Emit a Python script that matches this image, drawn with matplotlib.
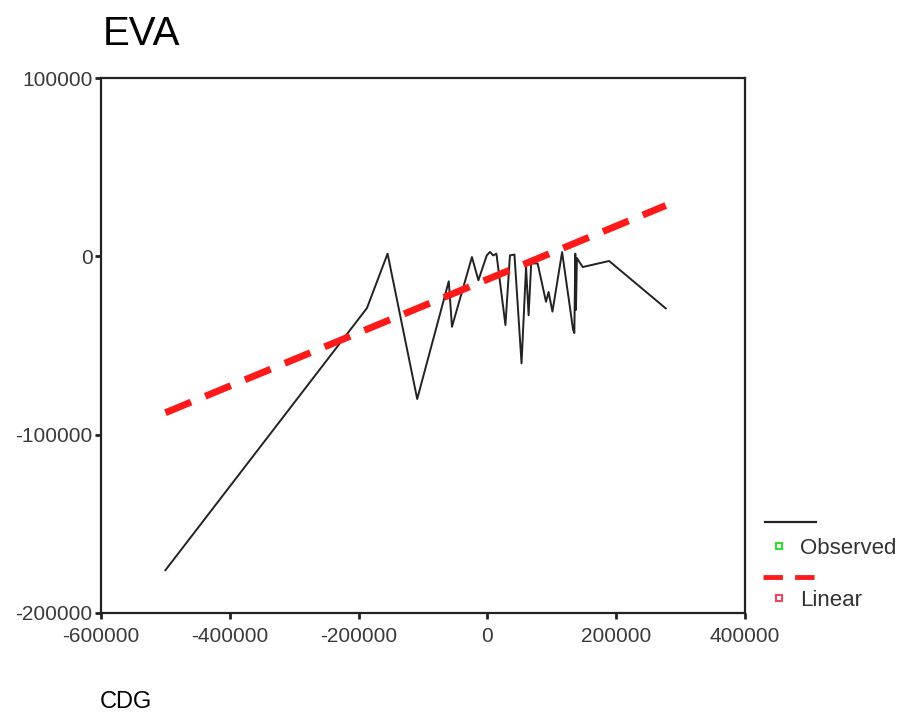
import numpy as np
import matplotlib
matplotlib.use('Agg')
import matplotlib.pyplot as plt
from matplotlib.lines import Line2D

plt.rcParams['font.family'] = ['Liberation Sans', 'DejaVu Sans']
plt.rcParams['axes.unicode_minus'] = False

# observed series (CDG vs EVA)
cdg = [-500000, -187000, -155000, -109000, -60000, -55000, -24000, -14000,
       -1000, 4000, 9000, 14000, 28000, 35000, 42000, 53000, 60000, 64000,
       68000, 78000, 91000, 95000, 101000, 116000, 133000, 135000, 136500,
       137500, 139000, 148000, 189000, 277000]
eva = [-176000, -29000, 1500, -80000, -14000, -39500, -400, -13400,
       500, 2500, 500, 1500, -38500, 500, 1000, -60000, -6000, -33000,
       -4000, -4000, -25500, -20000, -31000, 2400, -41000, -43000, 1500,
       -30000, -1000, -6000, -2600, -29200]

# fitted linear model
lin_x = [-500000, 277000]
lin_y = [-87700, 28500]

fig = plt.figure(figsize=(8.98, 7.13), dpi=100)
ax = fig.add_axes([101/898, 1 - 613/713, (745-101)/898, (613-78)/713])

ax.plot(cdg, eva, color='#222222', linewidth=1.4)
ax.plot(lin_x, lin_y, color='#ff1a1a', linewidth=5, dashes=(4, 2.2))

ax.set_xlim(-600000, 400000)
ax.set_ylim(-200000, 100000)
ax.set_xticks(range(-600000, 400001, 200000))
ax.set_yticks(range(-200000, 100001, 100000))
ax.tick_params(axis='both', direction='out', length=4, width=2, color='#222222',
               labelsize=15, labelcolor='#3a3a3a')
ax.tick_params(axis='x', pad=6)
ax.tick_params(axis='y', pad=2)
for s in ax.spines.values():
    s.set_linewidth(1.6)
    s.set_color('#222222')

fig.text(103/898, 1 - 45/713, 'EVA', fontsize=29, color='black', ha='left', va='baseline')
fig.text(100/898, 1 - 708/713, 'CDG', fontsize=17, color='black', ha='left', va='baseline')

# legend drawn outside axes (SPSS style)
def fx(px):
    return px / 898
def fy(py):
    return 1 - py / 713

fig.add_artist(Line2D([fx(765), fx(816)], [fy(522), fy(522)], color='#222222', linewidth=1.6))
fig.add_artist(Line2D([fx(779)], [fy(546)], marker='s', markersize=5, markerfacecolor='white',
                      markeredgecolor='#33dd33', markeredgewidth=1.5, linestyle='none'))
fig.text(fx(800), fy(548), 'Observed', fontsize=16, color='#333333', va='center', ha='left')
fig.add_artist(Line2D([fx(763), fx(815)], [fy(577), fy(577)], color='#ff1a1a', linewidth=3.5,
                      dashes=(4, 2.5)))
fig.add_artist(Line2D([fx(779)], [fy(598)], marker='s', markersize=5, markerfacecolor='white',
                      markeredgecolor='#ee4466', markeredgewidth=1.5, linestyle='none'))
fig.text(fx(800), fy(600), 'Linear', fontsize=16, color='#333333', va='center', ha='left')

fig.savefig('out.png', dpi=100)
